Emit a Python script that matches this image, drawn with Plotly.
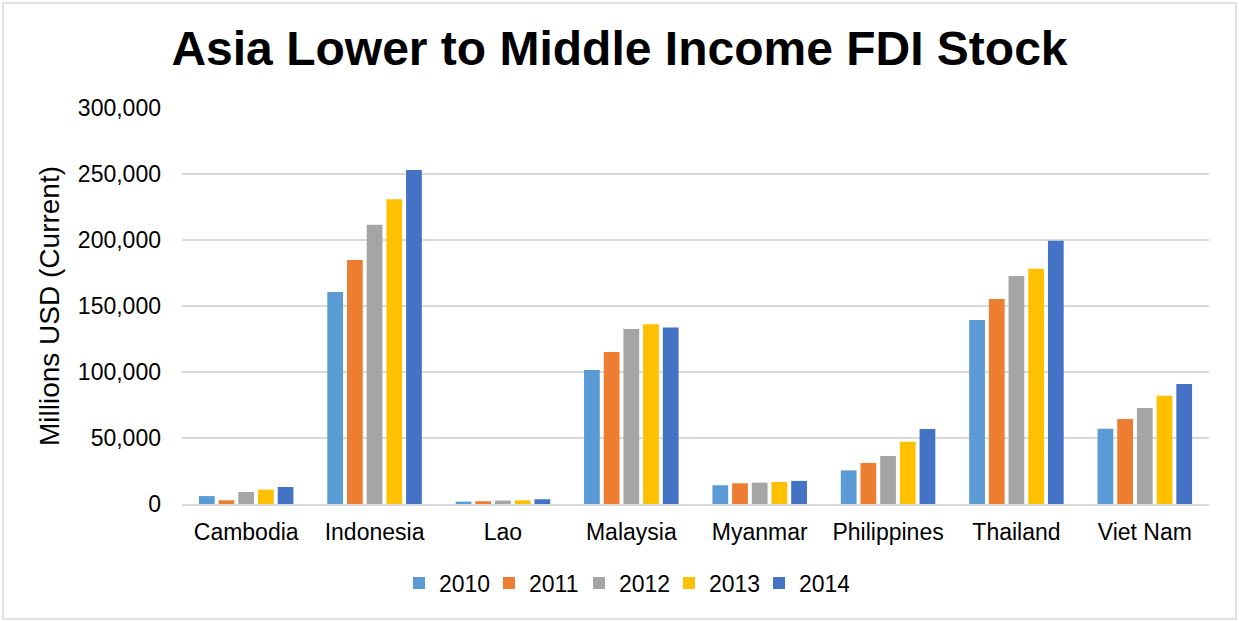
import plotly.graph_objects as go

# FDI stock, millions of current USD
countries = ["Cambodia", "Indonesia", "Lao", "Malaysia", "Myanmar",
             "Philippines", "Thailand", "Viet Nam"]
years = ["2010", "2011", "2012", "2013", "2014"]

fdi_2010 = [6000, 160700, 1800, 101500, 14200, 25500, 139400, 57000]
fdi_2011 = [2800, 184800, 2100, 115200, 15700, 31100, 155300, 64400]
fdi_2012 = [9100, 211600, 2600, 132600, 16200, 36400, 172700, 72700]
fdi_2013 = [10900, 230800, 2800, 136100, 16700, 47200, 178300, 82000]
fdi_2014 = [12900, 253000, 3600, 133800, 17500, 56800, 199500, 91000]

series = [fdi_2010, fdi_2011, fdi_2012, fdi_2013, fdi_2014]
colors = ["#5B9BD5", "#ED7D31", "#A5A5A5", "#FFC000", "#4472C4"]

W, H = 1239, 622
left, right, top, bottom = 182, 1209, 108, 504

fig = go.Figure()
for year, vals, col in zip(years, series, colors):
    fig.add_trace(go.Bar(
        name=year, x=countries, y=vals,
        marker=dict(color=col, line=dict(width=0)),
    ))

font = "Liberation Sans, Arial, sans-serif"

# outer chart border, expressed in paper units
pw, ph = right - left, bottom - top
bx0, bx1, by0, by1 = 3, 1236, 3, 619
fig.add_shape(
    type="rect", xref="paper", yref="paper",
    x0=(bx0 - left) / pw, x1=(bx1 - left) / pw,
    y0=(bottom - by1) / ph, y1=(bottom - by0) / ph,
    line=dict(color="#d9d9d9", width=1.5), layer="below",
)

fig.update_layout(
    width=W, height=H,
    margin=dict(l=left, r=W - right, t=top, b=H - bottom, autoexpand=False),
    paper_bgcolor="white", plot_bgcolor="white",
    barmode="group", bargap=0.233, bargroupgap=0.2,
    font=dict(family=font, size=23, color="#000000"),
    title=dict(
        text="<b>Asia Lower to Middle Income FDI Stock</b>",
        font=dict(family=font, size=48, color="#000000"),
        x=0.5, xref="container", xanchor="center",
        y=1 - 48 / H, yref="container", yanchor="middle",
    ),
    xaxis=dict(
        showgrid=False, showline=True, linecolor="#d9d9d9", linewidth=2,
        ticks="", tickfont=dict(size=23), ticklabelstandoff=6,
    ),
    yaxis=dict(
        range=[0, 300000], dtick=50000, tickformat=",d",
        showgrid=True, gridcolor="#d9d9d9", gridwidth=1.5,
        zeroline=False, showline=False,
        tickfont=dict(size=23), ticklabelstandoff=20,
        title=dict(text="Millions USD (Current)", font=dict(size=28), standoff=10),
    ),
    legend=dict(
        orientation="h", x=(624 - left) / pw, xanchor="center",
        y=(bottom - 583) / ph, yanchor="middle",
        font=dict(size=23), itemwidth=30, traceorder="normal",
        entrywidth=45, entrywidthmode="pixels",
    ),
)

fig.write_html("out.html")
